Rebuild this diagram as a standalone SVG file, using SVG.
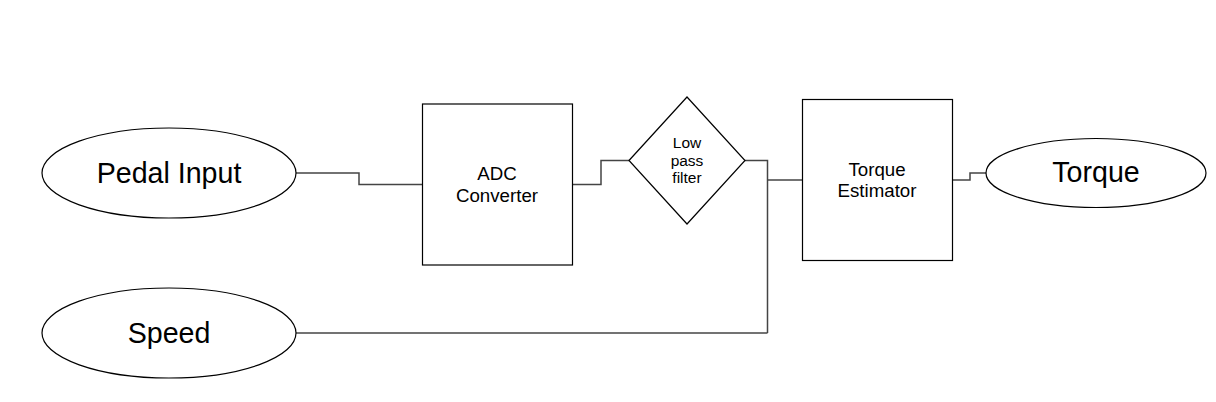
<svg xmlns="http://www.w3.org/2000/svg" width="1216" height="402" viewBox="0 0 1216 402">
<style>
.shape{fill:#fff;stroke:#000;stroke-width:1.2}
.conn{fill:none;stroke:#444;stroke-width:1.5}
text{font-family:"Liberation Sans",Arial,sans-serif;fill:#000;text-anchor:middle}
.big{font-size:28.6px}
.mid{font-size:18.7px}
.sm{font-size:15.5px}
</style>
<rect width="1216" height="402" fill="#fff"/>
<g id="connectors">
<polyline class="conn" points="296,173 359,173 359,184.5 422,184.5"/>
<polyline class="conn" points="572,184.5 601,184.5 601,160.5 629,160.5"/>
<polyline class="conn" points="745,160.5 767.5,160.5 767.5,333"/>
<polyline class="conn" points="296,333 767.5,333"/>
<polyline class="conn" points="767.5,180 802,180"/>
<polyline class="conn" points="952,180 970,180 970,173 986,173"/>
</g>
<g id="pedal">
<ellipse class="shape" cx="169" cy="173" rx="127" ry="45"/>
<text class="big" x="169" y="183">Pedal Input</text>
</g>
<g id="speed">
<ellipse class="shape" cx="169" cy="333" rx="127" ry="45"/>
<text class="big" x="169" y="343">Speed</text>
</g>
<g id="adc">
<rect class="shape" x="422.5" y="104" width="150" height="161"/>
<text class="mid" x="497" y="180">ADC</text>
<text class="mid" x="497" y="202">Converter</text>
</g>
<g id="lpf">
<polygon class="shape" points="629,160.5 687,97 745,160.5 687,224"/>
<text class="sm" x="687" y="148">Low</text>
<text class="sm" x="687" y="166">pass</text>
<text class="sm" x="687" y="183">filter</text>
</g>
<g id="estimator">
<rect class="shape" x="802.5" y="99.5" width="150" height="161"/>
<text class="mid" x="877" y="176">Torque</text>
<text class="mid" x="877" y="197">Estimator</text>
</g>
<g id="torque">
<ellipse class="shape" cx="1096" cy="173" rx="110" ry="34.5"/>
<text class="big" x="1096" y="182">Torque</text>
</g>
</svg>
